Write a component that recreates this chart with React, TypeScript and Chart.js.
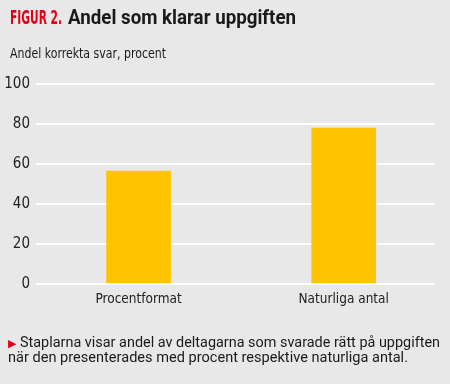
import React, { useEffect, useLayoutEffect, useRef } from "react";
import { Chart, registerables } from "chart.js";

Chart.register(...registerables);

const categories = ["Procentformat", "Naturliga antal"];
const values = [56.5, 78];
const yTicks = [0, 20, 40, 60, 80, 100];

const NARROW = "'Liberation Sans Narrow', 'DejaVu Sans Condensed', 'Roboto', sans-serif";
const SANS = "Roboto, 'Liberation Sans', sans-serif";
const BG = "#e8e8e8";

export default function App() {
  const ref = useRef<HTMLCanvasElement | null>(null);
  const rootRef = useRef<HTMLDivElement | null>(null);

  useLayoutEffect(() => {
    document.body.style.margin = "0";
    const root = rootRef.current;
    if (!root) return;
    root.querySelectorAll<HTMLElement>("[data-w]").forEach((el) => {
      const target = Number(el.dataset.w);
      el.style.transform = "none";
      const w = el.getBoundingClientRect().width;
      if (w > 0) {
        el.style.transformOrigin = "left top";
        el.style.transform = `scaleX(${target / w})`;
      }
    });
  }, []);

  useEffect(() => {
    const ctx = ref.current;
    if (!ctx) return;
    const chart = new Chart(ctx, {
      type: "bar",
      data: {
        datasets: [
          {
            data: categories.map((c, i) => ({ x: i, y: values[i] })),
            backgroundColor: "#ffc400",
            borderWidth: 0,
            barThickness: 64,
          },
        ],
      },
      options: {
        animation: false,
        responsive: false,
        maintainAspectRatio: false,
        layout: { padding: { left: 0, right: 15, top: 84, bottom: 70 } },
        plugins: { legend: { display: false }, tooltip: { enabled: false }, title: { display: false } },
        scales: {
          x: {
            type: "linear",
            offset: false,
            min: -0.5,
            max: 1.445,
            afterBuildTicks: (scale: any) => {
              scale.ticks = categories.map((_, i) => ({ value: i }));
            },
            afterFit: (scale: any) => {
              scale.height = 30;
            },
            grid: { display: false, drawTicks: false },
            border: { display: false },
            ticks: {
              padding: 7,
              color: "#222",
              font: { family: NARROW, size: 13.5 },
              callback: (v: any) => categories[v] ?? "",
            },
          },
          y: {
            min: 0,
            max: 100,
            afterBuildTicks: (scale: any) => {
              scale.ticks = yTicks.map((v) => ({ value: v }));
            },
            afterFit: (scale: any) => {
              scale.width = 36;
            },
            grid: { color: "#ffffff", lineWidth: 2, drawTicks: false },
            border: { display: false },
            ticks: {
              padding: 6,
              color: "#222",
              font: { family: NARROW, size: 15 },
            },
          },
        },
      },
    });
    return () => chart.destroy();
  }, []);

  const textBase: React.CSSProperties = { position: "absolute", whiteSpace: "nowrap", color: "#1a1a1a" };

  return (
    <div ref={rootRef} style={{ position: "relative", width: 450, height: 384, background: BG, overflow: "hidden" }}>
      <canvas ref={ref} width={450} height={384} style={{ position: "absolute", left: 0, top: 0 }} />
      <div style={{ ...textBase, left: 10, top: 5, fontFamily: NARROW, fontWeight: "bold", fontSize: 20, lineHeight: "24px" }}>
        <span data-w="52" style={{ display: "inline-block", color: "#e3001b" }}>FIGUR 2.</span>
      </div>
      <div style={{ ...textBase, left: 68, top: 5, fontFamily: SANS, fontWeight: "bold", fontSize: 20, lineHeight: "24px" }}>
        <span data-w="228" style={{ display: "inline-block" }}>Andel som klarar uppgiften</span>
      </div>
      <div style={{ ...textBase, left: 10, top: 44, fontFamily: NARROW, fontSize: 14, lineHeight: "18px" }}>
        <span data-w="156" style={{ display: "inline-block" }}>Andel korrekta svar, procent</span>
      </div>
      <div style={{ ...textBase, left: 8, top: 335, fontFamily: SANS, fontSize: 15, lineHeight: "15px" }}>
        <span style={{ color: "#e3001b", fontSize: 11, display: "inline-block", width: 12 }}>▶</span>
        <span data-w="420" style={{ display: "inline-block" }}>Staplarna visar andel av deltagarna som svarade rätt på uppgiften</span>
      </div>
      <div style={{ ...textBase, left: 8, top: 350, fontFamily: SANS, fontSize: 15, lineHeight: "15px" }}>
        <span data-w="400" style={{ display: "inline-block" }}>när den presenterades med procent respektive naturliga antal.</span>
      </div>
    </div>
  );
}
